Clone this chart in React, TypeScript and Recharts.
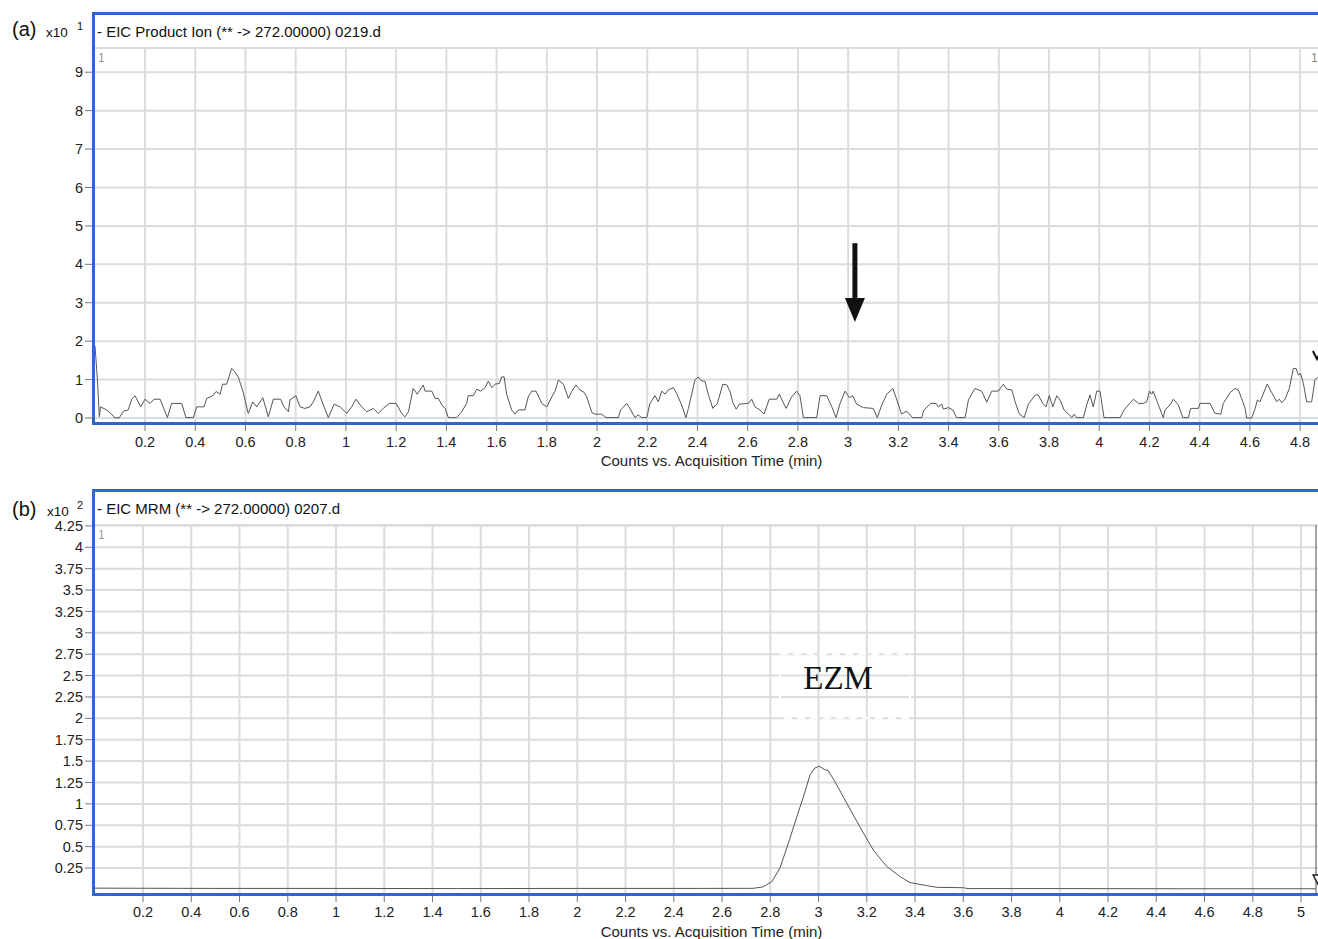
import React from "react";
import {
  CartesianGrid,
  Line,
  LineChart,
  ReferenceArea,
  ReferenceDot,
  ReferenceLine,
  XAxis,
  YAxis,
} from "recharts";

const SANS = '"Liberation Sans", Arial, Helvetica, sans-serif';
const SERIF = '"Liberation Serif", "Times New Roman", serif';
const BLUE = "#2f66c8";
const GRID = "#dcdcdc";
const TRACE = "#555";
const AXIS_TITLE = "Counts vs. Acquisition Time (min)";

// (a) EIC Product Ion (** -> 272.00000) 0219.d : [time (min), counts x10^1]
const traceA: [number, number][] = [
  [0.001, 1.87], [0.01, 1.03], [0.018, 0.03], [0.023, 0.29], [0.047, 0.21], [0.067, 0.1],
  [0.08, 0.0], [0.098, 0.01], [0.114, 0.18], [0.133, 0.21], [0.147, 0.49], [0.16, 0.58],
  [0.183, 0.29], [0.2, 0.49], [0.22, 0.38], [0.236, 0.49], [0.26, 0.49], [0.289, 0.01],
  [0.306, 0.38], [0.346, 0.38], [0.363, 0.01], [0.392, 0.01], [0.406, 0.29], [0.435, 0.29],
  [0.446, 0.51], [0.47, 0.58], [0.483, 0.69], [0.499, 0.62], [0.509, 0.88], [0.525, 0.88],
  [0.545, 1.29], [0.558, 1.2], [0.571, 1.07], [0.591, 0.67], [0.611, 0.12], [0.629, 0.42],
  [0.645, 0.29], [0.669, 0.53], [0.691, 0.03], [0.711, 0.49], [0.74, 0.49], [0.753, 0.29],
  [0.771, 0.16], [0.777, 0.47], [0.801, 0.58], [0.817, 0.29], [0.837, 0.25], [0.857, 0.29],
  [0.87, 0.42], [0.89, 0.7], [0.91, 0.34], [0.93, 0.01], [0.953, 0.36], [0.977, 0.29],
  [1.003, 0.12], [1.023, 0.29], [1.04, 0.49], [1.063, 0.29], [1.083, 0.16], [1.109, 0.25],
  [1.129, 0.12], [1.149, 0.25], [1.173, 0.38], [1.2, 0.38], [1.222, 0.12], [1.235, 0.03],
  [1.249, 0.16], [1.268, 0.77], [1.284, 0.62], [1.295, 0.73], [1.308, 0.86], [1.315, 0.7],
  [1.342, 0.7], [1.355, 0.51], [1.368, 0.51], [1.382, 0.34], [1.395, 0.25], [1.408, 0.01],
  [1.441, 0.01], [1.461, 0.16], [1.481, 0.38], [1.487, 0.58], [1.507, 0.58], [1.521, 0.75],
  [1.537, 0.7], [1.554, 0.79], [1.567, 0.96], [1.581, 0.79], [1.594, 0.88], [1.611, 0.9],
  [1.62, 1.07], [1.63, 1.07], [1.64, 0.62], [1.66, 0.21], [1.673, 0.1], [1.687, 0.21],
  [1.713, 0.21], [1.726, 0.55], [1.74, 0.7], [1.757, 0.7], [1.78, 0.38], [1.8, 0.29],
  [1.82, 0.55], [1.833, 0.7], [1.846, 0.99], [1.866, 0.88], [1.886, 0.51], [1.899, 0.69],
  [1.916, 0.86], [1.932, 0.73], [1.948, 0.67], [1.959, 0.55], [1.979, 0.15], [1.992, 0.1],
  [2.019, 0.1], [2.036, 0.01], [2.085, 0.01], [2.094, 0.21], [2.118, 0.38], [2.131, 0.25],
  [2.151, 0.01], [2.164, 0.08], [2.178, 0.01], [2.198, 0.01], [2.211, 0.38], [2.231, 0.58],
  [2.244, 0.42], [2.258, 0.7], [2.271, 0.62], [2.284, 0.73], [2.304, 0.79], [2.317, 0.64],
  [2.337, 0.34], [2.354, 0.01], [2.364, 0.25], [2.377, 0.62], [2.39, 0.99], [2.403, 1.07],
  [2.417, 0.96], [2.43, 0.96], [2.443, 0.62], [2.461, 0.25], [2.479, 0.38], [2.501, 0.88],
  [2.517, 0.86], [2.53, 0.69], [2.54, 0.42], [2.554, 0.23], [2.567, 0.36], [2.603, 0.38],
  [2.616, 0.49], [2.629, 0.29], [2.649, 0.21], [2.665, 0.1], [2.686, 0.49], [2.716, 0.49],
  [2.726, 0.62], [2.74, 0.42], [2.753, 0.25], [2.775, 0.55], [2.795, 0.7], [2.808, 0.58],
  [2.822, 0.01], [2.875, 0.01], [2.888, 0.58], [2.915, 0.58], [2.935, 0.29], [2.952, 0.01],
  [2.968, 0.38], [2.988, 0.7], [3.005, 0.53], [3.018, 0.58], [3.034, 0.36], [3.061, 0.27],
  [3.1, 0.25], [3.116, 0.01], [3.134, 0.34], [3.154, 0.62], [3.178, 0.77], [3.194, 0.47],
  [3.213, 0.1], [3.233, 0.18], [3.257, 0.01], [3.293, 0.01], [3.302, 0.21], [3.329, 0.38],
  [3.35, 0.38], [3.359, 0.29], [3.373, 0.36], [3.379, 0.23], [3.399, 0.27], [3.417, 0.21],
  [3.432, 0.01], [3.466, 0.01], [3.479, 0.47], [3.505, 0.77], [3.532, 0.7], [3.552, 0.41],
  [3.572, 0.7], [3.598, 0.7], [3.618, 0.88], [3.632, 0.75], [3.652, 0.73], [3.665, 0.42],
  [3.682, 0.1], [3.701, 0.01], [3.718, 0.36], [3.745, 0.6], [3.757, 0.6], [3.775, 0.38],
  [3.788, 0.29], [3.801, 0.58], [3.815, 0.29], [3.831, 0.58], [3.844, 0.47], [3.86, 0.21],
  [3.877, 0.1], [3.891, 0.01], [3.9, 0.1], [3.91, 0.01], [3.937, 0.01], [3.95, 0.34],
  [3.963, 0.6], [3.976, 0.29], [3.99, 0.7], [4.003, 0.7], [4.019, 0.01], [4.083, 0.01],
  [4.099, 0.21], [4.116, 0.34], [4.136, 0.49], [4.156, 0.38], [4.176, 0.38], [4.189, 0.42],
  [4.2, 0.7], [4.209, 0.62], [4.215, 0.7], [4.231, 0.42], [4.255, 0.01], [4.262, 0.21],
  [4.282, 0.34], [4.295, 0.49], [4.315, 0.34], [4.333, 0.01], [4.355, 0.01], [4.364, 0.25],
  [4.395, 0.25], [4.401, 0.38], [4.441, 0.38], [4.461, 0.12], [4.484, 0.1], [4.494, 0.38],
  [4.521, 0.66], [4.541, 0.77], [4.554, 0.73], [4.567, 0.51], [4.581, 0.25], [4.587, 0.0],
  [4.607, 0.0], [4.621, 0.25], [4.63, 0.47], [4.64, 0.42], [4.669, 0.88], [4.687, 0.66],
  [4.707, 0.42], [4.717, 0.49], [4.727, 0.4], [4.74, 0.49], [4.757, 0.77], [4.773, 1.29],
  [4.784, 1.29], [4.793, 1.12], [4.802, 1.16], [4.813, 0.9], [4.826, 0.42], [4.846, 0.42],
  [4.859, 0.99], [4.871, 1.07], [4.899, 1.04],
];

// (b) EIC MRM (** -> 272.00000) 0207.d : [time (min), counts x10^2]
const traceB: [number, number][] = [
  [0, 0.015], [0.5, 0.012], [1.0, 0.012], [1.5, 0.01], [2.0, 0.012], [2.5, 0.012],
  [2.73, 0.013], [2.77, 0.03], [2.806, 0.09], [2.84, 0.25], [2.875, 0.54], [2.91, 0.85],
  [2.937, 1.08], [2.965, 1.34], [2.985, 1.42], [3.003, 1.44], [3.026, 1.4], [3.04, 1.39],
  [3.068, 1.26], [3.103, 1.08], [3.144, 0.87], [3.186, 0.66], [3.227, 0.46], [3.282, 0.27],
  [3.338, 0.15], [3.379, 0.08], [3.448, 0.045], [3.49, 0.025], [3.6, 0.02], [3.62, 0.01],
  [4.0, 0.01], [4.5, 0.008], [5.06, 0.008],
];

const xTicksA = [0.2, 0.4, 0.6, 0.8, 1, 1.2, 1.4, 1.6, 1.8, 2, 2.2, 2.4, 2.6, 2.8, 3, 3.2, 3.4, 3.6, 3.8, 4, 4.2, 4.4, 4.6, 4.8];
const xTicksB = [...xTicksA, 5];
const yTicksA = [0, 1, 2, 3, 4, 5, 6, 7, 8, 9];
const yTicksB = [0.25, 0.5, 0.75, 1, 1.25, 1.5, 1.75, 2, 2.25, 2.5, 2.75, 3, 3.25, 3.5, 3.75, 4, 4.25];

const dataA = traceA.map(([t, v]) => ({ t, v }));
const dataB = traceB.map(([t, v]) => ({ t, v }));

const tickStyle = { fill: "#222", fontSize: 14.5, fontFamily: SANS };

function Tag({
  x,
  y,
  size,
  color = "#111",
  family = SANS,
  children,
}: {
  x: number;
  y: number;
  size: number;
  color?: string;
  family?: string;
  children: React.ReactNode;
}) {
  return (
    <div
      style={{
        position: "absolute",
        left: x,
        top: y,
        fontSize: size,
        lineHeight: `${size}px`,
        color,
        fontFamily: family,
        whiteSpace: "nowrap",
      }}
    >
      {children}
    </div>
  );
}

function Box({ top, height }: { top: number; height: number }) {
  return (
    <div
      style={{
        position: "absolute",
        left: 92,
        top,
        width: 1400,
        height,
        boxSizing: "border-box",
        border: `3px solid ${BLUE}`,
        pointerEvents: "none",
      }}
    />
  );
}

const arrowHead = (p: any) => (
  <polygon
    points={`${p.cx - 10},${p.cy - 24} ${p.cx + 10},${p.cy - 24} ${p.cx},${p.cy}`}
    fill="#111"
  />
);

const peakMarkA = (p: any) => (
  <polyline
    points={`${p.cx - 4},${p.cy - 4} ${p.cx},${p.cy + 4} ${p.cx + 4},${p.cy - 4}`}
    fill="none"
    stroke="#111"
    strokeWidth={2}
  />
);

const peakMarkB = (p: any) => (
  <polygon
    points={`${p.cx - 7},${p.cy - 7} ${p.cx + 7},${p.cy - 7} ${p.cx},${p.cy + 6}`}
    fill="#fff"
    stroke="#222"
    strokeWidth={1.5}
  />
);

const ezmText = (p: any) => (
  <text
    x={p.cx}
    y={p.cy}
    textAnchor="middle"
    dominantBaseline="central"
    fontFamily={SERIF}
    fontSize={33}
    fill="#111"
  >
    EZM
  </text>
);

export default function App() {
  return (
    <div
      style={{
        position: "absolute",
        left: 0,
        top: 0,
        width: 1318,
        height: 939,
        overflow: "hidden",
        background: "#fff",
        fontFamily: SANS,
      }}
    >
      {/* panel (a) */}
      <div style={{ position: "absolute", left: 0, top: 0 }}>
        <LineChart width={1330} height={480} data={dataA} margin={{ top: 48, right: 0, bottom: 6, left: 0 }}>
          <CartesianGrid stroke={GRID} strokeWidth={2} />
          <XAxis
            type="number"
            dataKey="t"
            domain={[-0.0072, 4.919]}
            ticks={xTicksA}
            interval={0}
            allowDataOverflow
            height={50}
            axisLine={false}
            stroke="#777"
            tickSize={7}
            tickMargin={6}
            tick={tickStyle}
            label={{ value: AXIS_TITLE, position: "insideBottom", offset: 8, fill: "#222", fontSize: 15, fontFamily: SANS }}
          />
          <YAxis
            type="number"
            domain={[-0.156, 9.63]}
            ticks={yTicksA}
            interval={0}
            allowDataOverflow
            width={93}
            axisLine={false}
            stroke="#777"
            tickSize={8}
            tickMargin={2}
            tick={tickStyle}
          />
          <Line type="linear" dataKey="v" stroke={TRACE} strokeWidth={1} dot={false} isAnimationActive={false} />
          <ReferenceLine
            segment={[
              { x: 3.027, y: 4.55 },
              { x: 3.027, y: 3.05 },
            ]}
            stroke="#111"
            strokeWidth={5}
          />
          <ReferenceDot x={3.027} y={2.5} shape={arrowHead} />
          <ReferenceDot x={4.867} y={1.64} shape={peakMarkA} />
        </LineChart>
      </div>
      <Box top={12} height={413} />
      <Tag x={12} y={19} size={20}>(a)</Tag>
      <Tag x={46} y={26} size={13.5}>x10</Tag>
      <Tag x={77} y={21} size={11}>1</Tag>
      <Tag x={97} y={24} size={15}>- EIC Product Ion (** -&gt; 272.00000) 0219.d</Tag>
      <Tag x={98} y={52} size={12} color="#999">1</Tag>
      <Tag x={1311} y={52} size={12} color="#888">1</Tag>

      {/* panel (b) */}
      <div style={{ position: "absolute", left: 0, top: 470 }}>
        <LineChart width={1330} height={469} data={dataB} margin={{ top: 55, right: 0, bottom: 0, left: 0 }}>
          <CartesianGrid stroke={GRID} strokeWidth={2} />
          <XAxis
            type="number"
            dataKey="t"
            domain={[-0.0073, 5.12]}
            ticks={xTicksB}
            interval={0}
            allowDataOverflow
            height={44}
            axisLine={false}
            stroke="#777"
            tickSize={7}
            tickMargin={5}
            tick={tickStyle}
            label={{ value: AXIS_TITLE, position: "insideBottom", offset: 2, fill: "#222", fontSize: 15, fontFamily: SANS }}
          />
          <YAxis
            type="number"
            domain={[-0.065, 4.26]}
            ticks={yTicksB}
            interval={0}
            allowDataOverflow
            width={93}
            axisLine={false}
            stroke="#777"
            tickSize={8}
            tickMargin={2}
            tick={tickStyle}
          />
          <ReferenceArea
            x1={2.841}
            x2={3.379}
            y1={2.0}
            y2={2.75}
            fill="none"
            fillOpacity={0}
            stroke="#fff"
            strokeWidth={2}
            strokeDasharray="8 5"
          />
          <ReferenceLine x={5.062} stroke="#888" strokeWidth={1.5} />
          <Line type="linear" dataKey="v" stroke={TRACE} strokeWidth={1} dot={false} isAnimationActive={false} />
          <ReferenceDot x={3.081} y={2.47} shape={ezmText} />
          <ReferenceDot x={5.079} y={0.087} shape={peakMarkB} />
        </LineChart>
      </div>
      <Box top={489} height={407} />
      <Tag x={12} y={499} size={20}>(b)</Tag>
      <Tag x={47} y={505} size={13.5}>x10</Tag>
      <Tag x={77} y={500} size={11}>2</Tag>
      <Tag x={97} y={501} size={15}>- EIC MRM (** -&gt; 272.00000) 0207.d</Tag>
      <Tag x={98} y={529} size={12} color="#999">1</Tag>
    </div>
  );
}
